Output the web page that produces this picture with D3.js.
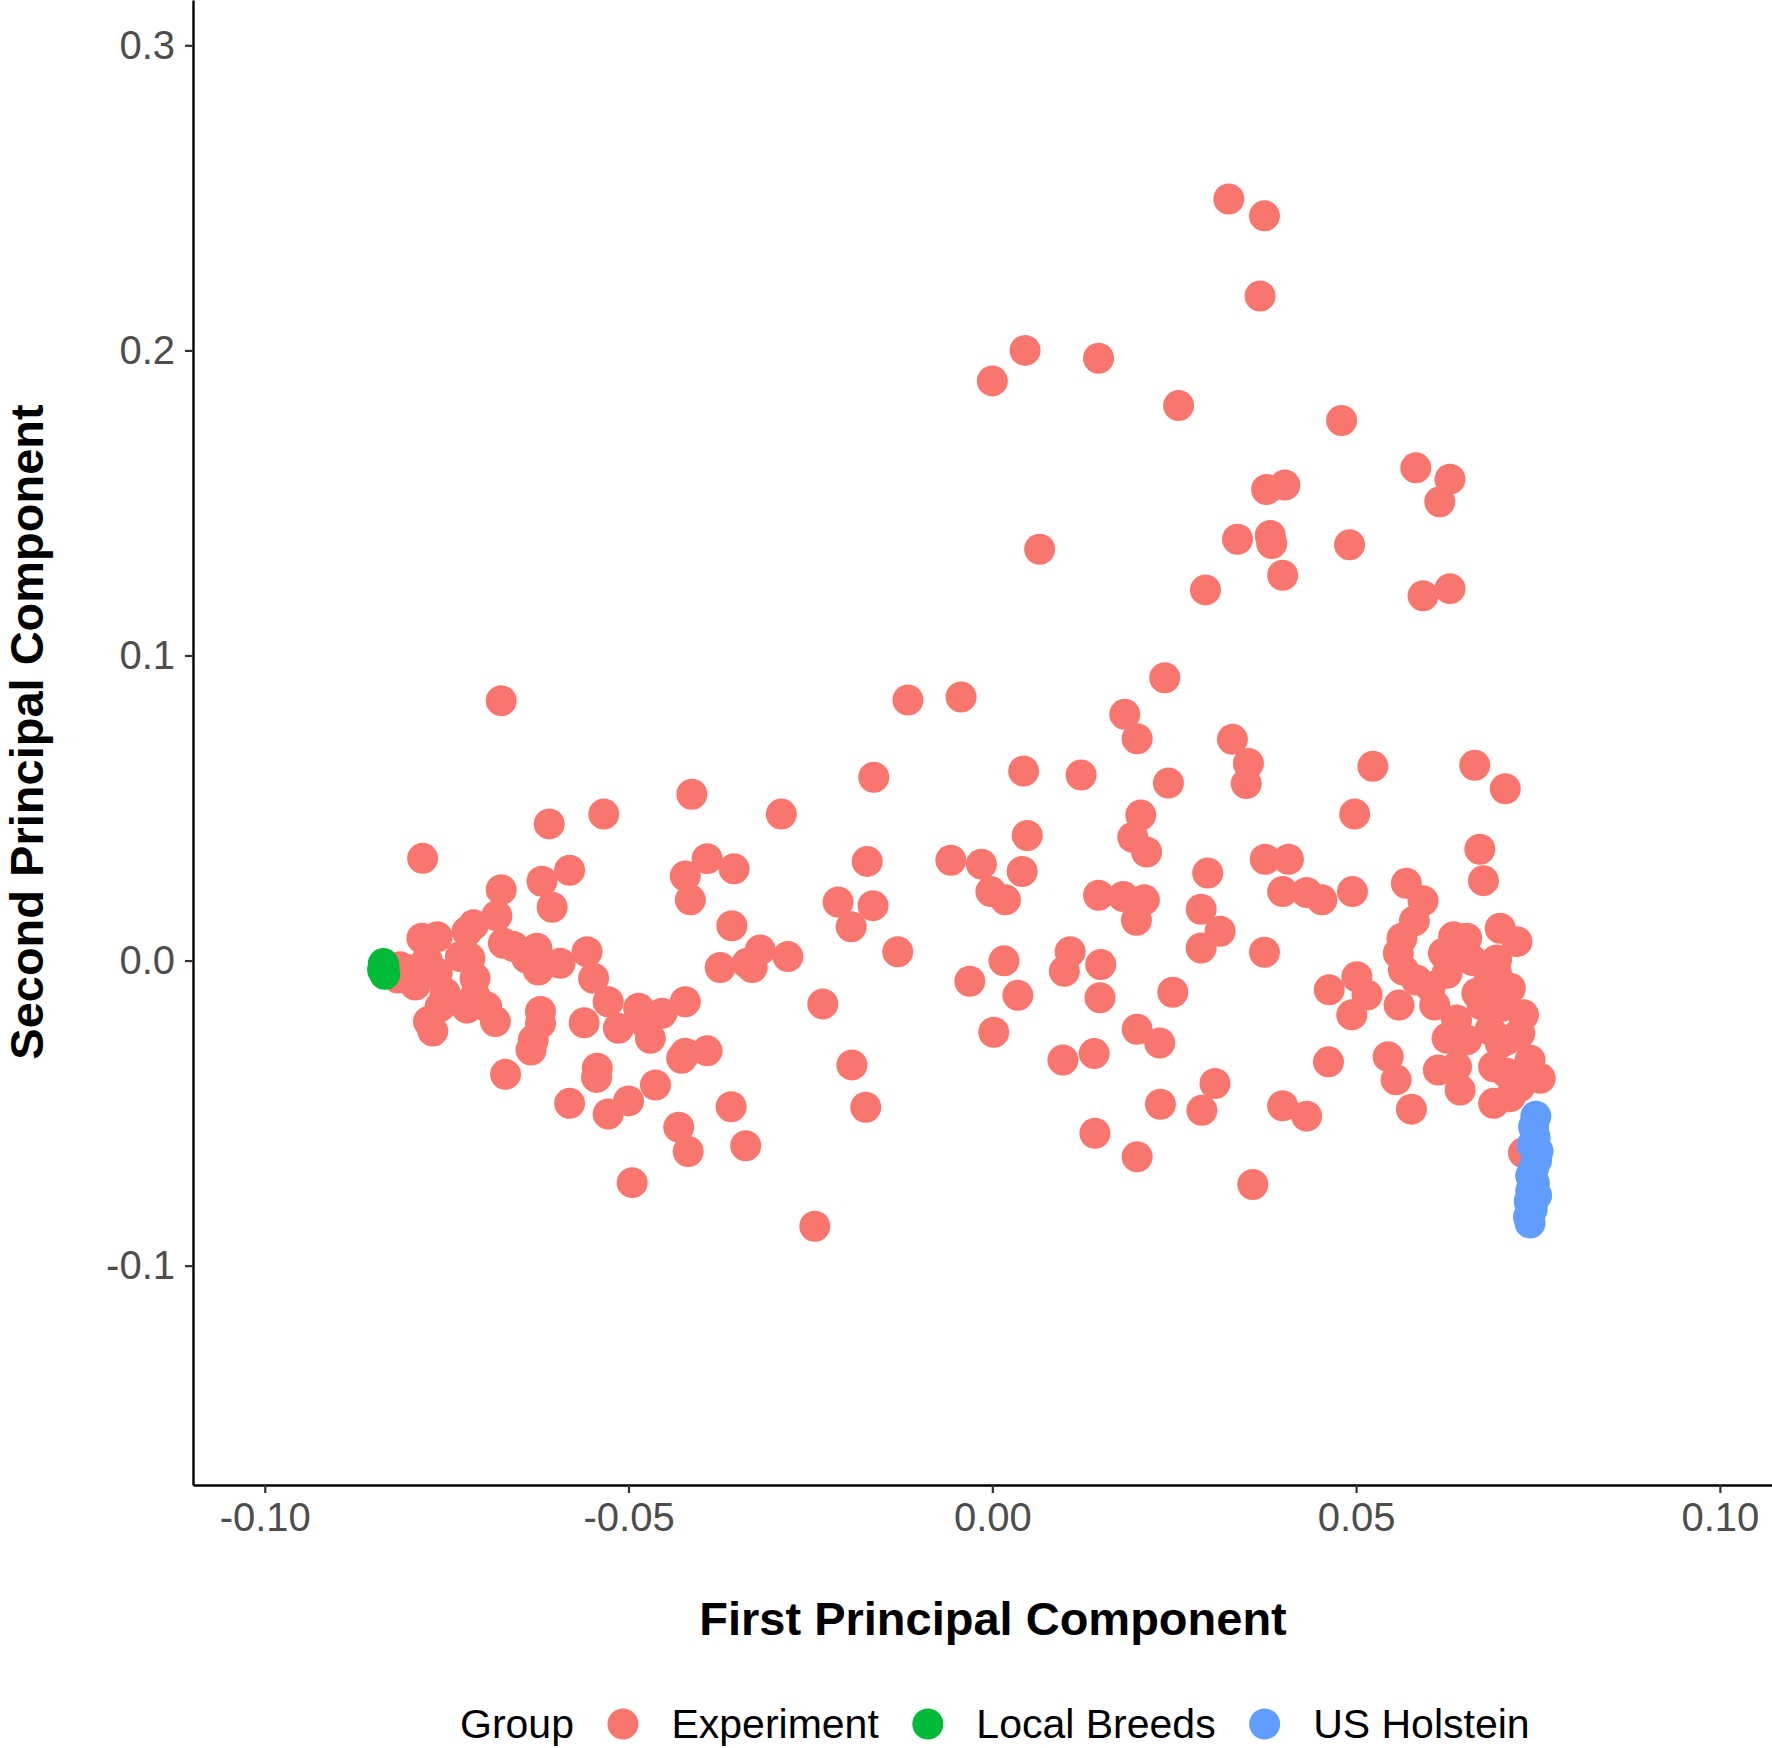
<!DOCTYPE html>
<html>
<head>
<meta charset="utf-8">
<script src="https://cdn.jsdelivr.net/npm/d3@7"></script>
<style>
  body { margin: 0; background: #fff; }
  svg { display: block; font-family: "Liberation Sans", Arial, sans-serif; }
</style>
</head>
<body>
<svg id="pca" width="1772" height="1748"></svg>
<script>
// PCA scores: [PC1, PC2]
var experiment = [
  [-0.0783,0.0335],[-0.0609,0.0448],[-0.0534,0.0480],[-0.0413,0.0545],[-0.0290,0.0480],
  [-0.0675,0.0232],[-0.0619,0.0260],[-0.0581,0.0296],[-0.0605,0.0175],[-0.0681,0.0147],
  [-0.0422,0.0277],[-0.0392,0.0334],[-0.0355,0.0301],[-0.0415,0.0199],[-0.0358,0.0114],
  [-0.0212,0.0192],[-0.0194,0.0111],[-0.0374,-0.0023],[-0.0337,-0.0009],[-0.0319,0.0035],
  [-0.0330,-0.0023],[-0.0281,0.0013],[-0.0233,-0.0142],[-0.0814,-0.0020],[-0.0817,-0.0057],
  [-0.0784,0.0073],[-0.0763,0.0078],[-0.0777,0.0002],[-0.0793,-0.0080],[-0.0763,-0.0041],
  [-0.0752,-0.0106],[-0.0775,-0.0200],[-0.0769,-0.0231],[-0.0759,-0.0151],[-0.0722,0.0095],
  [-0.0713,0.0117],[-0.0718,0.0008],[-0.0711,-0.0058],[-0.0722,-0.0156],[-0.0711,-0.0118],
  [-0.0695,-0.0151],[-0.0683,-0.0200],[-0.0731,0.0013],[-0.0672,0.0057],[-0.0658,0.0046],
  [-0.0626,0.0040],[-0.0640,0.0008],[-0.0624,-0.0031],[-0.0594,-0.0009],[-0.0557,0.0029],
  [-0.0548,-0.0058],[-0.0528,-0.0135],[-0.0514,-0.0222],[-0.0486,-0.0156],[-0.0454,-0.0173],
  [-0.0422,-0.0135],[-0.0470,-0.0255],[-0.0477,-0.0206],[-0.0621,-0.0167],[-0.0621,-0.0206],
  [-0.0631,-0.0260],[-0.0634,-0.0293],[-0.0561,-0.0204],[-0.0669,-0.0373],[-0.0543,-0.0353],
  [-0.0544,-0.0383],[-0.0581,-0.0468],[-0.0528,-0.0503],[-0.0500,-0.0460],[-0.0463,-0.0408],
  [-0.0422,-0.0304],[-0.0392,-0.0296],[-0.0427,-0.0320],[-0.0431,-0.0546],[-0.0418,-0.0626],
  [-0.0359,-0.0479],[-0.0339,-0.0607],[-0.0495,-0.0728],[-0.0244,-0.0871],[-0.0193,-0.0342],
  [-0.0174,-0.0481],[-0.0675,0.0852],[-0.0800,-0.0030],
  [-0.0116,0.0854],[-0.0043,0.0864],[0.0237,0.0927],[0.0182,0.0807],[0.0199,0.0727],
  [0.0330,0.0725],[0.0352,0.0646],[0.0349,0.0580],[-0.0163,0.0601],[0.0043,0.0621],
  [0.0122,0.0608],[0.0242,0.0582],[0.0204,0.0477],[0.0193,0.0404],[0.0212,0.0356],
  [0.0048,0.0410],[0.0041,0.0292],[-0.0057,0.0329],[-0.0015,0.0316],[-0.0002,0.0226],
  [0.0018,0.0199],[-0.0172,0.0325],[-0.0164,0.0180],[-0.0130,0.0029],[0.0146,0.0214],
  [0.0180,0.0210],[0.0209,0.0199],[0.0198,0.0132],[0.0296,0.0287],[0.0287,0.0168],
  [0.0313,0.0096],[0.0287,0.0041],[0.0375,0.0332],[0.0407,0.0332],[0.0399,0.0226],
  [0.0432,0.0223],[0.0453,0.0199],[0.0374,0.0027],[0.0016,-0.0001],[-0.0031,-0.0068],
  [0.0035,-0.0114],[0.0107,0.0029],[0.0099,-0.0035],[0.0149,-0.0013],[0.0148,-0.0122],
  [0.0248,-0.0104],[0.0002,-0.0235],[0.0199,-0.0225],[0.0230,-0.0270],[0.0097,-0.0326],
  [0.0140,-0.0305],[0.0463,-0.0096],[0.0462,-0.0332],[0.0306,-0.0403],[0.0288,-0.0491],
  [0.0231,-0.0471],[0.0399,-0.0476],[0.0432,-0.0510],[0.0141,-0.0566],[0.0199,-0.0643],
  [0.0358,-0.0734],[0.0498,0.0480],
  [0.0670,0.0365],[0.0675,0.0262],[0.0495,0.0226],[0.0569,0.0253],[0.0592,0.0196],
  [0.0580,0.0130],[0.0563,0.0073],[0.0558,0.0024],[0.0565,-0.0031],[0.0583,-0.0064],
  [0.0559,-0.0146],[0.0501,-0.0053],[0.0515,-0.0113],[0.0494,-0.0178],[0.0544,-0.0315],
  [0.0555,-0.0391],[0.0576,-0.0487],[0.0634,0.0078],[0.0652,0.0073],[0.0620,0.0024],
  [0.0625,-0.0042],[0.0602,-0.0086],[0.0608,-0.0146],[0.0698,0.0106],[0.0721,0.0062],
  [0.0693,0.0002],[0.0693,-0.0042],[0.0666,-0.0107],[0.0673,-0.0146],[0.0712,-0.0091],
  [0.0730,-0.0178],[0.0725,-0.0238],[0.0638,-0.0195],[0.0625,-0.0255],[0.0652,-0.0260],
  [0.0684,-0.0227],[0.0698,-0.0271],[0.0613,-0.0359],[0.0638,-0.0348],[0.0643,-0.0424],
  [0.0689,-0.0348],[0.0707,-0.0369],[0.0739,-0.0326],[0.0753,-0.0386],[0.0725,-0.0413],
  [0.0689,-0.0468],[0.0712,-0.0446],[0.0730,-0.0630],[0.0707,-0.0260],[0.0640,0.0050],
  [0.0660,0.0000],[0.0700,-0.0150],[0.0680,-0.0080],
  [0.0523,0.0637],[0.0663,0.0640],[0.0705,0.0563],
  [0.0325,0.2496],[0.0374,0.2441],[0.0368,0.2178],[0.0045,0.2000],[0.0000,0.1900],
  [0.0146,0.1974],[0.0256,0.1819],[0.0480,0.1770],[0.0582,0.1615],[0.0629,0.1578],
  [0.0615,0.1504],[0.0377,0.1544],[0.0402,0.1559],[0.0337,0.1381],[0.0382,0.1393],
  [0.0384,0.1367],[0.0491,0.1363],[0.0065,0.1348],[0.0399,0.1263],[0.0293,0.1215],
  [0.0592,0.1196],[0.0629,0.1219]
];

var localBreeds = [
  [-0.0837,-0.0010],[-0.0836,-0.0022],[-0.0838,-0.0030],[-0.0835,-0.0045]
];

var usHolstein = [
  [0.0747,-0.0510],[0.0744,-0.0545],[0.0746,-0.0580],[0.0742,-0.0605],[0.0750,-0.0625],
  [0.0748,-0.0655],[0.0744,-0.0680],[0.0740,-0.0705],[0.0745,-0.0730],[0.0740,-0.0755],
  [0.0748,-0.0770],[0.0738,-0.0790],[0.0742,-0.0815],[0.0737,-0.0840],[0.0739,-0.0860]
];

var groupNames = ['Experiment', 'Local Breeds', 'US Holstein'];
var groupColors = ['#F8766D', '#00BA38', '#619CFF'];

var xTicks = [-0.10, -0.05, 0.00, 0.05, 0.10];
var yTicks = [-0.1, 0.0, 0.1, 0.2, 0.3];

var svg = d3.select('#pca');
var width = 1772, height = 1748;
var margin = {left: 193, top: 0, right: 0, bottom: 263};

var xScale = d3.scaleLinear()
    .domain([-0.10986, 0.10716])
    .range([margin.left, width - margin.right]);

var yScale = d3.scaleLinear()
    .domain([0.31485, -0.1719])
    .range([margin.top, height - margin.bottom]);

var groups = [experiment, localBreeds, usHolstein];

groups.forEach(function (pts, i) {
    svg.append('g')
        .selectAll('circle')
        .data(pts)
        .enter()
        .append('circle')
        .attr('cx', function (d) { return xScale(d[0]); })
        .attr('cy', function (d) { return yScale(d[1]); })
        .attr('r', 15.5)
        .attr('fill', groupColors[i]);
});

// axes
var gx = svg.append('g')
    .attr('transform', 'translate(0,' + (height - margin.bottom) + ')')
    .call(d3.axisBottom(xScale).tickValues(xTicks)
        .tickFormat(function (d) { return d.toFixed(2); })
        .tickSize(8).tickSizeOuter(0).tickPadding(10));

var gy = svg.append('g')
    .attr('transform', 'translate(' + margin.left + ',0)')
    .call(d3.axisLeft(yScale).tickValues(yTicks)
        .tickFormat(function (d) { return d.toFixed(1); })
        .tickSize(8).tickSizeOuter(0).tickPadding(10));

[gx, gy].forEach(function (g) {
    g.select('.domain').attr('stroke', '#000').attr('stroke-width', 2.4);
    g.selectAll('.tick line').attr('stroke', '#333').attr('stroke-width', 2.2);
    g.selectAll('.tick text')
        .attr('fill', '#4D4D4D')
        .style('font-size', '40px')
        .style('font-family', '"Liberation Sans", Arial, sans-serif');
});

// axis titles
svg.append('text')
    .attr('x', 993)
    .attr('y', 1635)
    .style('text-anchor', 'middle')
    .style('font-size', '47px')
    .style('font-weight', 'bold')
    .text('First Principal Component');

svg.append('text')
    .attr('transform', 'translate(43,732) rotate(-90)')
    .style('text-anchor', 'middle')
    .style('font-size', '47px')
    .style('font-weight', 'bold')
    .text('Second Principal Component');

// legend
var legend = svg.append('g');
var legendBase = 1738, legendCy = 1724;
var title = legend.append('text')
    .attr('x', 460).attr('y', legendBase)
    .style('font-size', '41px')
    .text('Group');
var cursor = 460 + title.node().getComputedTextLength();

groupNames.forEach(function (name, i) {
    var cx = cursor + 49;
    legend.append('circle')
        .attr('cx', cx).attr('cy', legendCy)
        .attr('r', 15.5)
        .attr('fill', groupColors[i]);
    var t = legend.append('text')
        .attr('x', cx + 48.5).attr('y', legendBase)
        .style('font-size', '41px')
        .text(name);
    cursor = cx + 48.5 + t.node().getComputedTextLength();
});
</script>
</body>
</html>
